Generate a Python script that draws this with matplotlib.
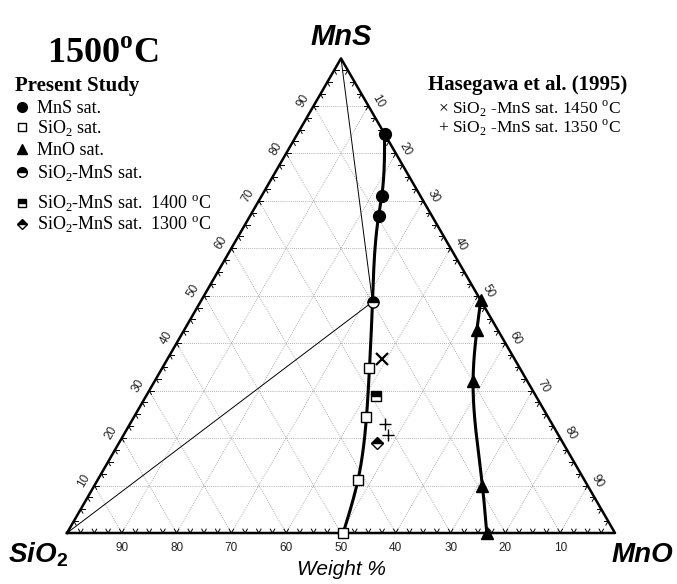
import numpy as np
import matplotlib.pyplot as plt

plt.rcParams['mathtext.fontset'] = 'custom'
plt.rcParams['mathtext.rm'] = 'Liberation Serif'
plt.rcParams['mathtext.bf'] = 'Liberation Serif:bold'
plt.rcParams['mathtext.sf'] = 'Liberation Sans:bold'

# compositions in wt% (MnS, MnO); SiO2 is the remainder
mns_sat_MnS = [84.1, 71.1, 66.7]
mns_sat_MnO = [15.9, 21.9, 23.5]

sio2_sat_MnS = [34.8, 24.5, 11.2, 0.0]
sio2_sat_MnO = [37.8, 42.4, 47.5, 50.4]

mno_sat_MnS = [49.0, 42.8, 32.0, 10.0, 0.0]
mno_sat_MnO = [51.0, 53.4, 58.1, 70.8, 76.6]

double_MnS, double_MnO = 48.7, 31.4          # SiO2-MnS sat. 1500 C
d1400_MnS, d1400_MnO = 28.9, 42.0
d1300_MnS, d1300_MnO = 19.0, 47.0
has1450_MnS, has1450_MnO = [36.6], [39.1]
has1350_MnS, has1350_MnO = [23.0, 20.7], [46.6, 48.3]

ticks = [10, 20, 30, 40, 50, 60, 70, 80, 90]

S3 = np.sqrt(3) / 2


def tern(mns, mno):
    mns = np.asarray(mns, float)
    mno = np.asarray(mno, float)
    return mno / 100 + mns / 200, mns / 100 * S3


def spline_curve(x, y, n=200):
    # natural cubic spline x(y), only used to draw the boundary smoothly
    x = np.asarray(x, float)
    y = np.asarray(y, float)
    o = np.argsort(y)
    x, y = x[o], y[o]
    m = len(y)
    h = np.diff(y)
    A = np.zeros((m, m))
    b = np.zeros(m)
    A[0, 0] = A[-1, -1] = 1
    for i in range(1, m - 1):
        A[i, i - 1], A[i, i], A[i, i + 1] = h[i - 1], 2 * (h[i - 1] + h[i]), h[i]
        b[i] = 6 * ((x[i + 1] - x[i]) / h[i] - (x[i] - x[i - 1]) / h[i - 1])
    M = np.linalg.solve(A, b)
    yy = np.linspace(y[0], y[-1], n)
    k = np.clip(np.searchsorted(y, yy) - 1, 0, m - 2)
    t = yy - y[k]
    hk = h[k]
    c1 = (x[k + 1] - x[k]) / hk - hk * (2 * M[k] + M[k + 1]) / 6
    xx = x[k] + c1 * t + M[k] / 2 * t ** 2 + (M[k + 1] - M[k]) / (6 * hk) * t ** 3
    return xx, yy


W, H = 677, 584
X0, Y0, SIDE = 67, 533, 548
fig = plt.figure(figsize=(W / 100, H / 100), dpi=100)
ax = fig.add_axes([0, 0, 1, 1])
ax.set_xlim(-X0 / SIDE, (W - X0) / SIDE)
ax.set_ylim((Y0 - H) / SIDE, Y0 / SIDE)
ax.axis('off')

# grid
gkw = dict(color='#999999', lw=0.6, ls=(0, (1, 1.5)), zorder=1)
for v in ticks:
    ax.plot(*tern([v, v], [0, 100 - v]), **gkw)
    ax.plot(*tern([0, 100 - v], [v, v]), **gkw)
    ax.plot(*tern([100 - v, 0], [0, 100 - v]), **gkw)

# frame
ax.plot(*tern([0, 0, 100, 0], [0, 100, 0, 0]), color='black', lw=1.8, zorder=3)

# chevron ticks
L = 4.5 / SIDE
edges = [
    (lambda t: tern(0, t), [(-0.5, S3), (0.5, S3)]),
    (lambda t: tern(t, 0), [(1, 0), (0.5, -S3)]),
    (lambda t: tern(t, 100 - t), [(-1, 0), (-0.5, -S3)]),
]
for f, dirs in edges:
    for t in np.arange(2.5, 100, 2.5):
        x, y = f(t)
        for dx, dy in dirs:
            ax.plot([x, x + L * dx], [y, y + L * dy], color='black', lw=0.7, zorder=3)

# tick labels
lab = dict(fontsize=8.5, color='#222222', family='Liberation Sans', ha='center', va='center')
for v in ticks:
    x, y = tern(0, 100 - v)
    ax.text(x, y - 15 / SIDE, str(v), **lab)
    x, y = tern(v, 0)
    ax.text(x - 10.5 / SIDE, y + 5 / SIDE, str(v), rotation=60, **lab)
    x, y = tern(100 - v, v)
    ax.text(x + 10 / SIDE, y + 4.5 / SIDE, str(v), rotation=-60, **lab)

# tie lines
dx, dy = tern(double_MnS, double_MnO)
ax.plot([tern(100, 0)[0], dx], [tern(100, 0)[1], dy], color='black', lw=0.7, zorder=2)
ax.plot([tern(0, 0)[0], dx], [tern(0, 0)[1], dy], color='black', lw=0.7, zorder=2)

# saturation boundaries
b_mns = mns_sat_MnS + [double_MnS] + sio2_sat_MnS
b_mno = mns_sat_MnO + [double_MnO] + sio2_sat_MnO
ax.plot(*spline_curve(*tern(b_mns, b_mno)), color='black', lw=2.2, zorder=4)
ax.plot(*spline_curve(*tern(mno_sat_MnS, mno_sat_MnO)), color='black', lw=2.2, zorder=4)

# points
ax.plot(*tern(mns_sat_MnS, mns_sat_MnO), 'o', color='black', ms=8.5, zorder=5)
ax.plot(*tern(sio2_sat_MnS, sio2_sat_MnO), 's', mfc='white', mec='black', mew=1, ms=7, zorder=5)
ax.plot(*tern(mno_sat_MnS, mno_sat_MnO), '^', color='black', ms=8.5, zorder=5)
half = dict(mfc='black', mfcalt='white', mec='black', mew=1, fillstyle='top', zorder=5)
ax.plot(*tern([double_MnS], [double_MnO]), 'o', ms=8, **half)
ax.plot(*tern([d1400_MnS], [d1400_MnO]), 's', ms=7, **half)
ax.plot(*tern([d1300_MnS], [d1300_MnO]), 'D', ms=6, **half)
ax.plot(*tern(has1450_MnS, has1450_MnO), 'x', color='black', ms=8, mew=1.6, zorder=5)
ax.plot(*tern(has1350_MnS, has1350_MnO), '+', color='black', ms=8, mew=1, zorder=5)

# text overlay in pixel coordinates
lax = fig.add_axes([0, 0, 1, 1])
lax.set_xlim(0, W)
lax.set_ylim(H, 0)
lax.axis('off')

sans = dict(family='Liberation Sans', weight='bold', style='italic', fontsize=20)
lax.text(341, 45, 'MnS', ha='center', va='baseline', **dict(sans, fontsize=21))
lax.text(68, 562, r'SiO$_{\mathsf{2}}$', ha='right', va='baseline', **sans)
lax.text(642, 562, 'MnO', ha='center', va='baseline', **sans)
lax.text(341, 575, 'Weight %', ha='center', va='baseline', family='Liberation Sans',
         style='italic', fontsize=15)

serif = dict(family='Liberation Serif', va='baseline')
lax.text(47, 63, r'1500$^{\mathbf{o}}$C', fontsize=26, weight='bold', **serif)
lax.text(15, 91, 'Present Study', fontsize=15, weight='bold', **serif)

legend_rows = [
    (107, 'MnS sat.', dict(marker='o', color='black', ms=7)),
    (127, r'SiO$_2$ sat.', dict(marker='s', mfc='white', mec='black', mew=1, ms=6)),
    (149, 'MnO sat.', dict(marker='^', color='black', ms=7)),
    (172, r'SiO$_2$-MnS sat.', dict(marker='o', ms=7, **half)),
    (203, r'SiO$_2$-MnS sat.  1400 $^{\mathrm{o}}$C', dict(marker='s', ms=6, **half)),
    (224, r'SiO$_2$-MnS sat.  1300 $^{\mathrm{o}}$C', dict(marker='D', ms=5, **half)),
]
for y, text, mk in legend_rows:
    lax.plot([21.5], [y], ls='none', **mk)
    lax.text(37, y + 6, text, fontsize=13, **serif)

lax.text(428, 90, 'Hasegawa et al. (1995)', fontsize=15, weight='bold', **serif)
lax.text(438, 114, '\u00d7 SiO$_2$ -MnS sat. 1450 $^{\\mathrm{o}}$C', fontsize=12.5, **serif)
lax.text(438, 133, '+ SiO$_2$ -MnS sat. 1350 $^{\\mathrm{o}}$C', fontsize=12.5, **serif)

fig.savefig('out.png', dpi=100)
